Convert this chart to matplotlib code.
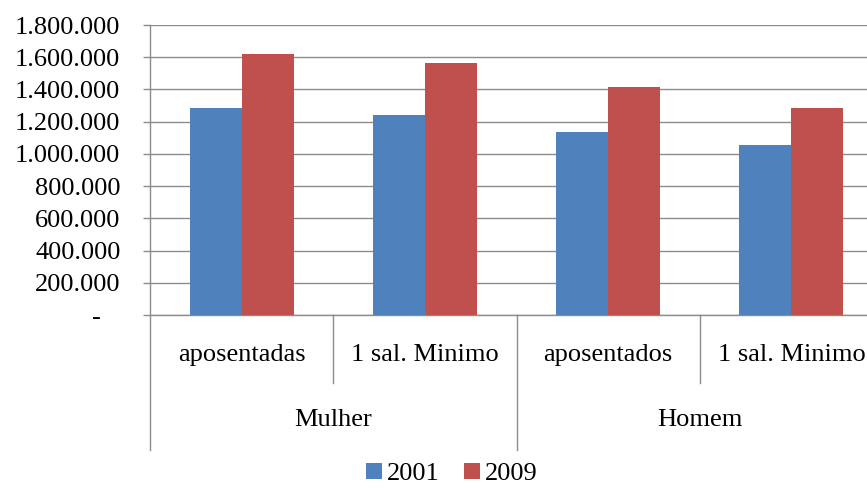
import numpy as np
import matplotlib
matplotlib.use('Agg')
import matplotlib.pyplot as plt
import matplotlib.ticker as mticker
import matplotlib.transforms as mtrans

plt.rcParams['font.family'] = ['Liberation Serif', 'DejaVu Serif']

# dados
grupos = ['Mulher', 'Homem']
categorias = ['aposentadas', '1 sal. Minimo', 'aposentados', '1 sal. Minimo']
anos = ['2001', '2009']
v2001 = [1287000, 1244000, 1136000, 1056000]
v2009 = [1620000, 1566000, 1415000, 1287000]

azul = '#4F81BD'
vermelho = '#C0504D'
cinza = '#8C8C8C'
fs = 19

fig = plt.figure(figsize=(8.67, 4.90), dpi=100)
W, H = 867.0, 490.0
ax = fig.add_axes([150/W, 1-315/H, 733/W, 290/H])

x = np.arange(len(categorias))
w = 0.284
b1 = ax.bar(x - w/2, v2001, w, color=azul, label=anos[0], zorder=3)
b2 = ax.bar(x + w/2, v2009, w, color=vermelho, label=anos[1], zorder=3)

ax.set_xlim(-0.5, 3.5)
ax.set_ylim(0, 1800000)
ax.set_yticks(np.arange(0, 1800001, 200000))

def fmt(v, pos):
    if v == 0:
        return '-   '
    return '{:,.0f}'.format(v).replace(',', '.')
ax.yaxis.set_major_formatter(mticker.FuncFormatter(fmt))
ax.tick_params(axis='y', length=5.3, width=1, color=cinza, pad=16, labelsize=fs)
ax.set_xticks([])

ax.grid(axis='y', color=cinza, linewidth=1, zorder=0)
ax.set_axisbelow(True)
for s in ['top', 'right']:
    ax.spines[s].set_visible(False)
for s in ['left', 'bottom']:
    ax.spines[s].set_color(cinza)
    ax.spines[s].set_linewidth(1)

# eixo x em dois niveis
tr = mtrans.blended_transform_factory(ax.transData, ax.transAxes)
for xs in [0.5, 2.5]:
    ax.plot([xs, xs], [0, -0.2345], color=cinza, lw=1, transform=tr, clip_on=False)
for xs in [-0.5, 1.5, 3.5]:
    ax.plot([xs, xs], [0, -0.4655], color=cinza, lw=1, transform=tr, clip_on=False)

for i, c in enumerate(categorias):
    ax.text(i, -0.138, c, transform=tr, ha='center', va='center', fontsize=fs)
for j, g in enumerate(grupos):
    ax.text(2*j + 0.5, -0.362, g, transform=tr, ha='center', va='center', fontsize=fs)

fig.legend(handles=[b1, b2], loc='center', bbox_to_anchor=(452/W, 1-474/H),
           ncol=2, frameon=False, fontsize=fs, handlelength=0.6, handleheight=0.6,
           handletextpad=0.2, columnspacing=0.9, borderpad=0.1)

fig.savefig('out.png', dpi=100)
